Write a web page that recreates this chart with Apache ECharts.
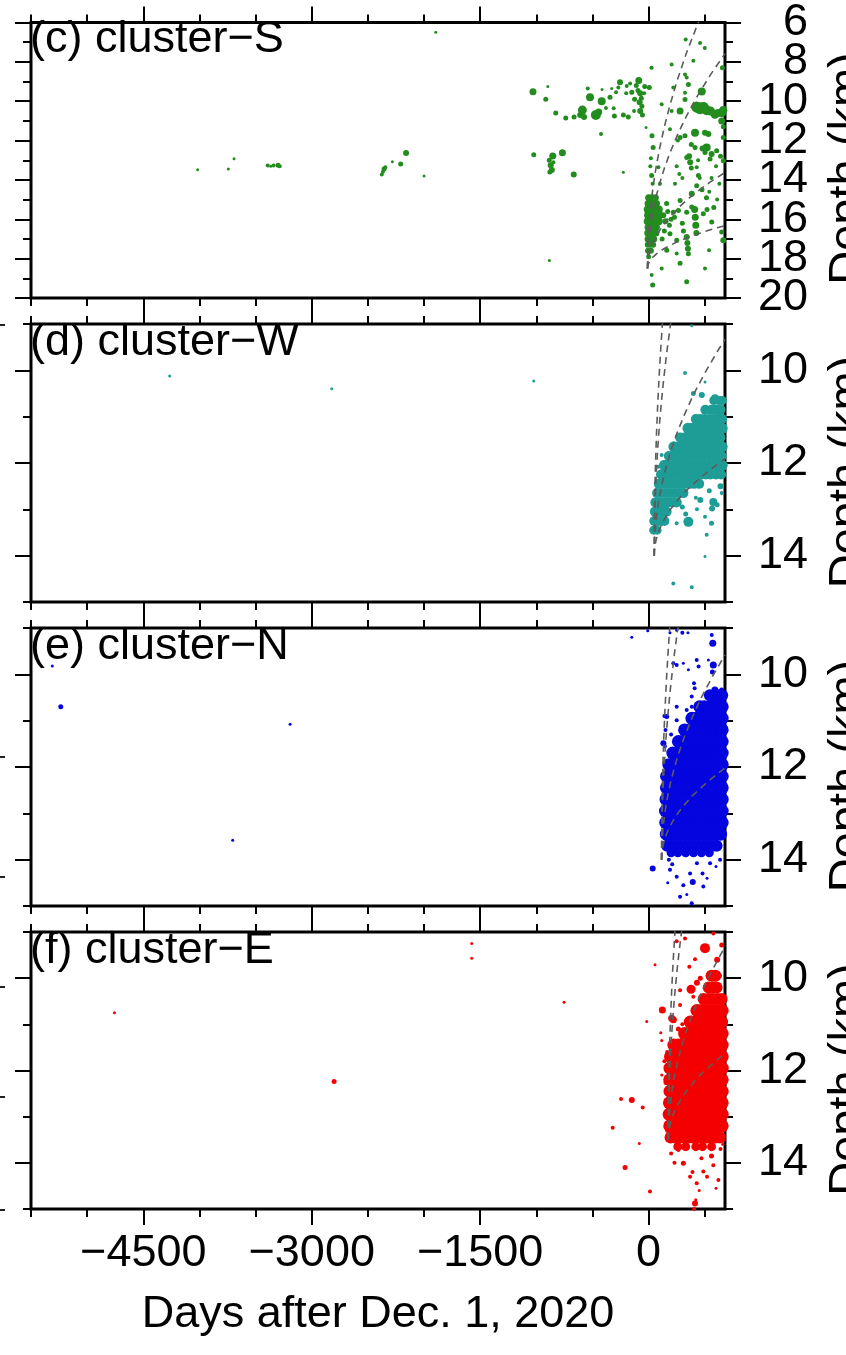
<!DOCTYPE html>
<html>
<head>
<meta charset="utf-8">
<script src="https://cdn.jsdelivr.net/npm/echarts@6/dist/echarts.min.js"></script>
<style>
  html, body { margin: 0; padding: 0; background: #fff; }
  #chart { width: 846px; height: 1355px; }
</style>
</head>
<body>
<div id="chart"></div>
<script>
// ---------- axis values ----------
const dayRange = [-5500, 680];
const dayMinorTicks = [-5500, -5000, -4500, -4000, -3500, -3000, -2500, -2000, -1500, -1000, -500, 0, 500];
const dayMajorTicks = [-4500, -3000, -1500, 0];
const dayTickLabels = ['\u22124500', '\u22123000', '\u22121500', '0'];
const dayTitle = 'Days after Dec. 1, 2020';
const depthTitle = 'Depth (km)';

const depthRangeS = [6, 20];
const depthMinorS = [6, 7, 8, 9, 10, 11, 12, 13, 14, 15, 16, 17, 18, 19, 20];
const depthMajorS = [6, 8, 10, 12, 14, 16, 18, 20];
const depthRangeShallow = [9, 15];
const depthMinorShallow = [9, 10, 11, 12, 13, 14, 15];
const depthMajorShallow = [10, 12, 14];

const panelNames = ['(c) cluster\u2212S', '(d) cluster\u2212W', '(e) cluster\u2212N', '(f) cluster\u2212E'];
const panelColors = ['#238c1f', '#1e9d97', '#0505e0', '#f40000'];

// ---------- hypocentres: [day, depth km, marker size] ----------
const clusterS = [
  [-4016, 13.48, 3], [-3743, 13.45, 3], [-3692, 12.92, 3], [-3392, 13.27, 4], [-3365, 13.3, 3],
  [-3340, 13.27, 4], [-3300, 13.26, 5], [-3285, 13.3, 4], [-2376, 13.72, 4], [-2366, 13.58, 4],
  [-2356, 13.45, 5], [-2345, 13.35, 4], [-2282, 13.07, 3], [-2208, 13.19, 5], [-2160, 12.63, 6],
  [-2000, 13.8, 3], [-1896, 6.49, 3],
  [-1030, 9.52, 7], [-898, 9.25, 3], [-916, 9.9, 5], [-827, 10.6, 5], [-738, 10.85, 5], [-664, 10.8, 5],
  [-610, 10.7, 6], [-590, 10.45, 9], [-575, 10.8, 6], [-522, 9.8, 8], [-542, 9.35, 4], [-470, 10.7, 10],
  [-445, 10.55, 7], [-418, 10.0, 8], [-415, 9.4, 3], [-424, 11.67, 4], [-380, 10.35, 4], [-329, 9.35, 3],
  [-344, 9.8, 5], [-311, 10.36, 4], [-305, 10.75, 5], [-290, 9.55, 4], [-255, 9.03, 6], [-270, 9.3, 4],
  [-225, 10.7, 5], [-181, 10.8, 5], [-195, 9.23, 4], [-165, 9.1, 4], [-150, 9.55, 5], [-88, 8.95, 7],
  [-110, 9.2, 5], [-95, 9.45, 5], [-75, 9.6, 6], [-65, 9.85, 5], [-80, 10.05, 6], [-60, 10.25, 5],
  [-75, 10.5, 6], [-55, 10.7, 5], [-35, 9.25, 5], [-40, 9.6, 4], [6, 9.3, 5], [21, 8.3, 3],
  [-23, 11.34, 3], [-125, 9.9, 5], [-200, 9.6, 4], [-130, 10.5, 4],
  [-1023, 12.72, 5], [-854, 12.79, 7], [-768, 12.62, 7], [-885, 13.0, 5], [-872, 13.25, 6],
  [-862, 13.5, 6], [-880, 13.6, 5], [-848, 13.1, 4], [-667, 13.73, 6], [-225, 13.61, 3], [-884, 18.1, 3],
  [27, 8.3, 4], [30, 11.76, 5], [40, 12.35, 5], [20, 12.9, 4], [15, 13.3, 4], [27, 13.78, 5], [35, 14.2, 4],
  [87, 13.36, 4], [101, 14.2, 4], [116, 10.16, 4], [205, 8.14, 4], [330, 6.87, 4], [458, 7.04, 4],
  [500, 7.3, 4], [398, 7.94, 4], [324, 8.64, 4], [657, 8.3, 5], [354, 9.15, 5], [324, 9.57, 4],
  [324, 9.91, 5], [473, 9.5, 8], [205, 10.5, 4], [280, 10.5, 7], [220, 9.3, 4], [339, 8.8, 4],
  [428, 10.3, 11], [458, 10.36, 12], [490, 10.3, 10], [517, 10.46, 10], [550, 10.5, 9], [591, 10.66, 9],
  [620, 10.6, 8], [651, 10.58, 9], [665, 10.45, 8], [651, 11.0, 7], [665, 11.3, 5],
  [413, 11.6, 8], [502, 11.6, 6], [532, 11.67, 6], [324, 11.76, 5], [280, 11.85, 5], [190, 11.42, 4],
  [665, 11.85, 5], [413, 12.35, 5], [360, 12.8, 6], [370, 13.1, 6], [380, 13.4, 5], [339, 12.86, 5],
  [428, 13.36, 4], [517, 12.35, 8], [561, 12.68, 6], [547, 12.94, 5], [606, 12.52, 5], [665, 13.02, 5],
  [502, 12.6, 5], [443, 13.78, 5], [273, 13.7, 4], [235, 14.2, 4], [428, 14.29, 5], [384, 14.7, 6],
  [280, 15.05, 5], [220, 15.64, 5], [265, 15.55, 5], [339, 15.64, 5], [384, 15.38, 5], [410, 15.5, 7],
  [415, 15.9, 7], [420, 16.3, 7], [425, 16.7, 6], [487, 15.72, 5], [562, 16.14, 5], [651, 16.65, 5],
  [665, 17.07, 6], [190, 16.73, 5], [250, 17.07, 5], [339, 16.9, 6], [345, 17.2, 6], [350, 17.5, 6],
  [354, 17.75, 5], [161, 17.57, 5], [250, 17.74, 4], [280, 18.24, 5], [116, 18.5, 4], [27, 18.83, 4],
  [36, 19.34, 5], [339, 19.17, 5], [502, 18.5, 4], [538, 17.57, 4],
  [130, 15.8, 6], [150, 16.1, 6], [170, 15.6, 5], [185, 16.3, 5], [140, 16.6, 5], [120, 17.0, 5],
  [200, 16.0, 5], [230, 15.9, 5], [300, 16.2, 5], [310, 16.6, 5], [160, 15.2, 5], [480, 12.4, 6],
  [640, 12.8, 5], [630, 14.2, 4], [610, 15.0, 4], [580, 15.4, 5], [520, 15.5, 5], [455, 13.9, 4],
  [475, 14.5, 5], [515, 14.9, 5], [540, 14.6, 4], [380, 12.2, 5], [260, 12.0, 4], [250, 13.3, 4],
  [300, 13.9, 4], [440, 13.0, 4], [600, 13.3, 4], [560, 13.9, 4]
];
// dense burst just after day 0: [depth, marker size, days]
const clusterSRows = [
  [14.9, 7, [0, 30, 60]],
  [15.2, 7, [-5, 20, 45, 70]],
  [15.5, 8, [-8, 15, 40, 65, 90]],
  [15.8, 8, [-5, 20, 45, 70, 95]],
  [16.1, 8, [-8, 15, 40, 65, 90]],
  [16.4, 7, [-5, 20, 45, 70]],
  [16.7, 7, [-8, 15, 40, 65]],
  [17.0, 7, [-5, 20, 45]],
  [17.3, 6, [-8, 15, 40]],
  [17.6, 6, [-5, 20]],
  [17.9, 5, [0]]
];

const clusterW = [
  [-4265, 10.12, 3], [-2822, 10.4, 3], [-1023, 10.23, 3], [384, 9.04, 3], [324, 10.06, 4],
  [502, 10.25, 3], [591, 10.6, 8], [660, 10.68, 4], [473, 10.53, 6], [398, 10.5, 5], [116, 11.83, 4],
  [86, 12.08, 4], [354, 13.27, 10], [330, 13.1, 5], [502, 13.16, 4], [576, 12.84, 8], [565, 12.98, 6],
  [651, 12.65, 4], [517, 13.55, 4], [502, 14.02, 3], [220, 14.6, 4], [384, 14.68, 4], [560, 13.3, 5],
  [610, 12.9, 5], [250, 13.3, 4], [430, 13.0, 4], [460, 12.8, 6], [640, 12.5, 6], [540, 12.6, 5],
  [420, 12.75, 4], [300, 12.95, 5], [620, 10.9, 7], [545, 10.85, 6]
];
const clusterWRows = [
  [10.65, 9, [580, 625, 655]],
  [10.85, 10, [505, 560, 600, 640]],
  [11.05, 10, [420, 460, 500, 540, 580, 620, 655]],
  [11.25, 11, [350, 390, 430, 470, 510, 550, 590, 630, 655]],
  [11.45, 10, [280, 320, 360, 400, 440, 480, 520, 560, 600, 640]],
  [11.65, 11, [225, 265, 305, 345, 385, 425, 465, 505, 545, 585, 625, 655]],
  [11.85, 10, [180, 220, 260, 300, 340, 380, 420, 460, 500, 540, 580, 620, 650]],
  [12.05, 11, [140, 180, 220, 260, 300, 340, 380, 420, 460, 500, 540, 580, 620, 655]],
  [12.25, 10, [110, 150, 190, 230, 270, 310, 350, 390, 430, 470, 510, 550, 600, 645]],
  [12.45, 10, [90, 125, 165, 205, 245, 285, 325, 365, 405, 450]],
  [12.65, 10, [75, 110, 150, 190, 230, 270, 310]],
  [12.85, 10, [60, 95, 130, 170, 210, 250]],
  [13.05, 10, [55, 85, 120, 160]],
  [13.25, 10, [50, 80, 110, 140]],
  [13.45, 9, [45, 75]]
];

const clusterN = [
  [-5310, 9.82, 3], [-5235, 10.7, 5], [-3193, 11.08, 3], [-3704, 13.58, 3], [-150, 9.2, 3],
  [-8, 9.06, 3], [36, 14.19, 6], [190, 9.1, 3], [250, 9.05, 3], [300, 9.1, 4], [350, 9.1, 3],
  [220, 9.76, 4], [250, 9.8, 4], [309, 9.76, 3], [354, 9.9, 3], [428, 9.69, 4], [445, 9.83, 4],
  [532, 9.69, 3], [562, 9.15, 4], [571, 9.33, 7], [576, 9.8, 7], [568, 9.95, 5], [404, 10.19, 4],
  [410, 10.3, 4], [384, 10.48, 4], [384, 10.7, 4], [420, 10.72, 4], [473, 10.77, 4], [339, 10.77, 4],
  [250, 10.7, 4], [250, 10.99, 4], [161, 10.91, 5], [131, 11.49, 6], [150, 11.2, 4], [200, 11.3, 4],
  [140, 10.9, 4], [145, 11.55, 4], [590, 10.34, 7], [650, 10.34, 5],
  [190, 14.22, 4], [210, 14.1, 4], [250, 14.37, 4], [309, 14.55, 4], [369, 14.3, 4], [430, 14.08, 4],
  [480, 14.3, 4], [487, 14.58, 4], [393, 14.48, 6], [280, 14.8, 4], [340, 14.75, 3], [384, 14.94, 4],
  [547, 14.08, 4], [636, 14.0, 4], [180, 14.0, 4], [170, 14.5, 3], [520, 14.4, 3], [600, 14.15, 3]
];
const clusterNRows = [
  [10.45, 12, [545, 585, 625, 655]],
  [10.7, 13, [455, 495, 535, 575, 615, 655]],
  [10.95, 13, [385, 425, 465, 505, 545, 585, 625, 655]],
  [11.2, 13, [320, 360, 400, 440, 480, 520, 560, 600, 640, 655]],
  [11.45, 13, [265, 305, 345, 385, 425, 465, 505, 545, 585, 625, 655]],
  [11.7, 13, [215, 255, 295, 335, 375, 415, 455, 495, 535, 575, 615, 655]],
  [11.95, 13, [180, 220, 260, 300, 340, 380, 420, 460, 500, 540, 580, 620, 655]],
  [12.2, 13, [160, 200, 240, 280, 320, 360, 400, 440, 480, 520, 560, 600, 640, 655]],
  [12.45, 13, [158, 200, 240, 280, 320, 360, 400, 440, 480, 520, 560, 600, 640, 655]],
  [12.7, 13, [155, 195, 235, 275, 315, 355, 395, 435, 475, 515, 555, 595, 635, 655]],
  [12.95, 13, [150, 190, 230, 270, 310, 350, 390, 430, 470, 510, 550, 590, 630, 655]],
  [13.2, 13, [152, 195, 235, 275, 315, 355, 395, 435, 475, 515, 555, 595, 635, 655]],
  [13.45, 13, [158, 200, 240, 280, 320, 360, 400, 440, 480, 520, 560, 600, 640]],
  [13.7, 12, [165, 205, 245, 285, 325, 365, 405, 445, 485, 525, 565, 605]],
  [13.85, 9, [200, 260, 330, 400, 470, 540]]
];

const clusterE = [
  [-4757, 10.75, 3], [-2801, 12.24, 5], [-1575, 9.25, 3], [-1575, 9.57, 3], [-753, 10.52, 3],
  [57, 9.71, 3], [-17, 10.94, 3], [122, 10.69, 7], [108, 11.18, 3], [117, 11.35, 3], [117, 12.1, 3],
  [155, 12.26, 5], [205, 10.87, 7], [-246, 12.62, 4], [-150, 12.64, 6], [-53, 12.8, 4], [-320, 13.24, 4],
  [-83, 13.58, 3], [-210, 14.1, 5], [12, 14.62, 4], [413, 14.88, 6], [369, 14.3, 4], [428, 14.44, 4],
  [487, 14.19, 4], [520, 14.3, 4], [576, 14.05, 4], [621, 14.37, 4], [309, 14.01, 5], [265, 13.72, 4],
  [324, 9.14, 4], [502, 9.35, 10], [576, 9.03, 4], [651, 9.28, 5], [413, 9.59, 4], [362, 9.75, 4],
  [280, 10.26, 4], [378, 10.24, 9], [280, 10.58, 4], [220, 10.9, 7], [398, 10.4, 4], [430, 10.1, 6],
  [460, 10.0, 5], [250, 9.2, 4], [265, 11.1, 5], [300, 11.0, 4], [610, 9.6, 6], [630, 9.95, 5],
  [140, 11.8, 4], [165, 11.6, 4], [160, 12.9, 4], [170, 13.3, 5], [200, 13.8, 4], [230, 14.0, 4],
  [470, 13.9, 4], [560, 13.85, 5], [640, 13.7, 4], [660, 13.6, 3], [600, 14.55, 3], [450, 14.6, 3],
  [390, 14.2, 4], [405, 15.0, 4], [420, 14.8, 3]
];
const clusterERows = [
  [9.95, 12, [560, 595]],
  [10.2, 12, [535, 570, 605]],
  [10.45, 12, [490, 530, 570, 610, 650]],
  [10.7, 13, [430, 470, 510, 550, 590, 630, 655]],
  [10.95, 13, [370, 410, 450, 490, 530, 570, 610, 650]],
  [11.2, 13, [320, 360, 400, 440, 480, 520, 560, 600, 640, 655]],
  [11.45, 13, [225, 265, 305, 345, 385, 425, 465, 505, 545, 585, 625, 655]],
  [11.7, 13, [195, 235, 275, 315, 355, 395, 435, 475, 515, 555, 595, 635, 655]],
  [11.95, 13, [190, 230, 270, 310, 350, 390, 430, 470, 510, 550, 590, 630, 655]],
  [12.2, 13, [188, 228, 268, 308, 348, 388, 428, 468, 508, 548, 588, 628, 655]],
  [12.45, 13, [190, 230, 270, 310, 350, 390, 430, 470, 510, 550, 590, 630, 655]],
  [12.7, 13, [185, 225, 265, 305, 345, 385, 425, 465, 505, 545, 585, 625, 655]],
  [12.95, 13, [183, 225, 265, 305, 345, 385, 425, 465, 505, 545, 585, 625, 655]],
  [13.2, 13, [188, 228, 268, 308, 348, 388, 428, 468, 508, 548, 588, 628, 655]],
  [13.45, 12, [195, 235, 275, 315, 355, 395, 435, 475, 515, 555, 595, 635]],
  [13.65, 9, [260, 330, 420, 480, 560]]
];

// ---------- diffusion-front curves: days and depths (km) ----------
const curveDaysS = [-10, -8, -4, 2, 10, 20, 35, 50, 70, 100, 140, 190, 260, 340, 440, 550, 680];
const curvesS = [
  [18.5, 17.67, 17.06, 16.46, 15.87, 15.28, 14.56, 13.95, 13.24, 12.33, 11.30, 10.19, 8.84, 7.50, 6.03, 4.59, 3.06],
  [18.5, 17.91, 17.48, 17.06, 16.64, 16.22, 15.71, 15.28, 14.78, 14.14, 13.41, 12.62, 11.67, 10.72, 9.68, 8.66, 7.58],
  [18.5, 18.24, 18.05, 17.86, 17.67, 17.48, 17.25, 17.06, 16.84, 16.55, 16.22, 15.87, 15.45, 15.02, 14.56, 14.10, 13.62],
  [18.5, 18.38, 18.30, 18.21, 18.13, 18.05, 17.94, 17.86, 17.76, 17.63, 17.48, 17.33, 17.13, 16.95, 16.74, 16.53, 16.32]
];
const curveDaysW = [50, 52, 56, 62, 70, 80, 95, 110, 130, 160, 200, 250, 320, 400, 500, 610, 680];
const curvesW = [
  [14, 13.17, 12.56, 11.96, 11.37, 10.78, 10.06, 9.45, 8.74, 7.83],
  [14, 13.41, 12.98, 12.56, 12.14, 11.72, 11.21, 10.78, 10.28, 9.64, 8.91],
  [14, 13.74, 13.55, 13.36, 13.17, 12.98, 12.75, 12.56, 12.34, 12.05, 11.72, 11.37, 10.95, 10.52, 10.06, 9.60, 9.33],
  [14, 13.88, 13.80, 13.71, 13.63, 13.55, 13.44, 13.36, 13.26, 13.13, 12.98, 12.83, 12.63, 12.45, 12.24, 12.03, 11.91]
];
const curveDaysN = [115, 117, 121, 127, 135, 145, 160, 175, 195, 225, 265, 315, 385, 465, 565, 680];
const curvesN = [
  [14, 13.17, 12.56, 11.96, 11.37, 10.78, 10.06, 9.45, 8.74, 7.83],
  [14, 13.41, 12.98, 12.56, 12.14, 11.72, 11.21, 10.78, 10.28, 9.64, 8.91],
  [14, 13.74, 13.55, 13.36, 13.17, 12.98, 12.75, 12.56, 12.34, 12.05, 11.72, 11.37, 10.95, 10.52, 10.06, 9.58],
  [14, 13.88, 13.80, 13.71, 13.63, 13.55, 13.44, 13.36, 13.26, 13.13, 12.98, 12.83, 12.63, 12.45, 12.24, 12.02]
];
const curveDaysE = [175, 177, 181, 187, 195, 205, 220, 235, 255, 285, 325, 375, 445, 525, 625, 680];
const curvesE = [
  [13.5, 12.67, 12.06, 11.46, 10.87, 10.28, 9.56, 8.95],
  [13.5, 12.91, 12.48, 12.06, 11.64, 11.22, 10.71, 10.28, 9.78, 9.14, 8.41],
  [13.5, 13.24, 13.05, 12.86, 12.67, 12.48, 12.25, 12.06, 11.84, 11.55, 11.22, 10.87, 10.45, 10.02, 9.56, 9.32],
  [13.5, 13.38, 13.30, 13.21, 13.13, 13.05, 12.94, 12.86, 12.76, 12.63, 12.48, 12.33, 12.13, 11.95, 11.74, 11.63]
];

// ---------- layout ----------
const FONT = '"Liberation Sans", Arial, Helvetica, sans-serif';
const FONT_SIZE = 45;
const PLOT_LEFT = 31, PLOT_WIDTH = 694;
const PANEL_BOXES = [[21, 277], [324, 278], [628, 278], [932, 277]];
const EDGE_MARKS_Y = [325, 757, 877, 987, 1097, 1210];

const panels = [
  { points: clusterS, rows: clusterSRows, range: depthRangeS, minor: depthMinorS, major: depthMajorS, days: curveDaysS, curves: curvesS },
  { points: clusterW, rows: clusterWRows, range: depthRangeShallow, minor: depthMinorShallow, major: depthMajorShallow, days: curveDaysW, curves: curvesW },
  { points: clusterN, rows: clusterNRows, range: depthRangeShallow, minor: depthMinorShallow, major: depthMajorShallow, days: curveDaysN, curves: curvesN },
  { points: clusterE, rows: clusterERows, range: depthRangeShallow, minor: depthMinorShallow, major: depthMajorShallow, days: curveDaysE, curves: curvesE }
];

const labelStyle = { fontSize: FONT_SIZE, fontFamily: FONT, color: '#000' };
const tickStyle = { color: '#000', width: 2 };

function xAxisDef(gridIndex, position, major, withLabels) {
  return {
    type: 'value', gridIndex, position, min: dayRange[0], max: dayRange[1],
    axisLine: { show: false, onZero: false },
    splitLine: { show: false },
    axisTick: { show: true, inside: false, length: major ? 16 : 8, lineStyle: tickStyle,
                customValues: major ? dayMajorTicks : dayMinorTicks },
    axisLabel: Object.assign({ show: withLabels, margin: 22, customValues: dayMajorTicks,
                showMinLabel: true, showMaxLabel: true, hideOverlap: false,
                formatter: v => dayTickLabels[dayMajorTicks.indexOf(v)] || '' }, labelStyle)
  };
}
// ticks: array of tick values (or null for none); labels: array of label values (or null)
function yAxisDef(gridIndex, position, tickLen, ticks, labels, p) {
  return {
    type: 'value', gridIndex, position, inverse: true, min: p.range[0], max: p.range[1],
    axisLine: { show: false, onZero: false },
    splitLine: { show: false },
    axisTick: { show: !!ticks, inside: false, length: tickLen, lineStyle: tickStyle,
                customValues: ticks || p.major },
    axisLabel: Object.assign({ show: !!labels, margin: 83, align: 'right', customValues: labels || p.major,
                showMinLabel: true, showMaxLabel: true, hideOverlap: false }, labelStyle)
  };
}

const grids = [], xAxes = [], yAxes = [], series = [], graphics = [];

panels.forEach((p, i) => {
  const [top, height] = PANEL_BOXES[i];
  grids.push({ left: PLOT_LEFT, top, width: PLOT_WIDTH, height, show: true,
               borderColor: '#000', borderWidth: 3, backgroundColor: 'transparent' });
  const xi = xAxes.length, yi = yAxes.length;
  const last = i === panels.length - 1;
  xAxes.push(xAxisDef(i, 'bottom', false, false));
  xAxes.push(xAxisDef(i, 'bottom', true, last));
  xAxes.push(xAxisDef(i, 'top', false, false));
  xAxes.push(xAxisDef(i, 'top', true, false));
  yAxes.push(yAxisDef(i, 'left', 8, p.minor, null, p));
  yAxes.push(yAxisDef(i, 'left', 16, p.major, null, p));
  yAxes.push(yAxisDef(i, 'right', 8, p.minor, null, p));
  // labels alternate between two axes so closely stacked numbers are all kept
  const evenLabels = p.major.filter((_, k) => k % 2 === 0);
  const oddLabels = p.major.filter((_, k) => k % 2 === 1);
  yAxes.push(yAxisDef(i, 'right', 16, p.major, evenLabels, p));
  yAxes.push(yAxisDef(i, 'right', 16, null, oddLabels, p));

  // dense swarm first, isolated events drawn over it
  const rowPoints = [];
  p.rows.forEach(([depth, size, days]) => days.forEach(d => rowPoints.push([d, depth, size])));
  series.push({
    type: 'scatter', xAxisIndex: xi, yAxisIndex: yi, z: 2, silent: true,
    data: rowPoints.concat(p.points),
    symbol: 'circle', symbolSize: v => v[2],
    itemStyle: { color: panelColors[i], opacity: 1 }
  });

  p.curves.forEach(depths => {
    series.push({
      type: 'line', xAxisIndex: xi, yAxisIndex: yi, z: 4, silent: true,
      data: depths.map((d, k) => [p.days[k], d]),
      symbol: 'none', smooth: false, clip: true,
      lineStyle: { color: '#5c5c5c', width: 1.6, type: [7, 5] }
    });
  });

  graphics.push({
    type: 'text', x: PLOT_LEFT - 1, y: top + 19, z: 1,
    style: { text: panelNames[i], font: FONT_SIZE + 'px ' + FONT, fill: '#000',
             textAlign: 'left', textVerticalAlign: 'middle', verticalAlign: 'middle' }
  });
  graphics.push({
    type: 'text', x: 848, y: top + height / 2 + 9, rotation: Math.PI / 2, z: 1,
    style: { text: depthTitle, font: '47px ' + FONT, fill: '#000',
             textAlign: 'center', textVerticalAlign: 'middle', verticalAlign: 'middle' }
  });
});

graphics.push({
  type: 'text', x: PLOT_LEFT + PLOT_WIDTH / 2, y: 1315, z: 1,
  style: { text: dayTitle, font: FONT_SIZE + 'px ' + FONT, fill: '#000',
           textAlign: 'center', textVerticalAlign: 'middle', verticalAlign: 'middle' }
});
EDGE_MARKS_Y.forEach(y => graphics.push({
  type: 'line', z: 1, shape: { x1: 0, y1: y, x2: 5, y2: y }, style: { stroke: '#222', lineWidth: 2 }
}));

const chart = echarts.init(document.getElementById('chart'), null, { renderer: 'canvas', width: 846, height: 1355 });
chart.setOption({
  animation: false,
  backgroundColor: '#fff',
  grid: grids,
  xAxis: xAxes,
  yAxis: yAxes,
  series,
  graphic: graphics
});
</script>
</body>
</html>
